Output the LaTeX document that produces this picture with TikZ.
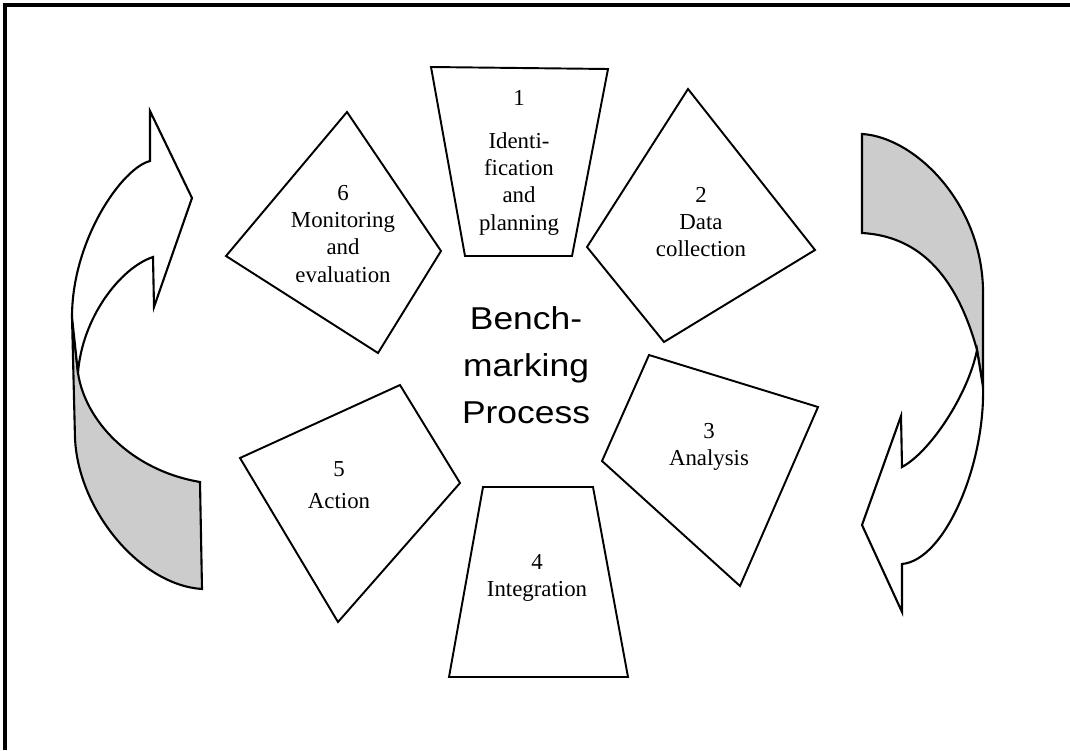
\documentclass[tikz,border=0pt]{standalone}
\usepackage{fontspec}
\setmainfont{Liberation Serif}
\newfontfamily\bigsans[FakeStretch=1.12]{Liberation Sans}

\begin{document}
\begin{tikzpicture}[x=0.02cm,y=-0.02cm,
    every node/.style={inner sep=0pt,align=center,anchor=north,font=\fontsize{13}{15.5}\selectfont},
    piece/.style={draw,line width=1.1pt,line join=miter},
    band/.style={draw,line width=1.2pt,fill=gray!40},
    sheet/.style={draw,line width=1.2pt,fill=white}]
  \useasboundingbox (0,0) rectangle (1070,750);
  \draw[line width=1.8pt] (5,750) -- (5,5) -- (1070,5);
  % left arrow
  \draw[band] (72,317) -- (75,438) .. controls (78,510) and (140,585) .. (202,589)
    -- (200,482) .. controls (130,470) and (85,420) .. (78,373) -- cycle;
  \draw[sheet] (150,161) -- (150,111) -- (192,198) -- (154,307) -- (153,257)
    .. controls (120,268) and (82,318) .. (78,373) -- (72,317)
    .. controls (72,240) and (122,168) .. (150,161) -- cycle;
  % right arrow
  \draw[band] (862,134) .. controls (915,137) and (985,205) .. (983,297) -- (983,387)
    -- (977,350) .. controls (955,270) and (915,236) .. (862,233) -- cycle;
  \draw[sheet] (977,350) -- (983,387) .. controls (985,465) and (945,560) .. (902,564)
    -- (902,612) -- (862,525) -- (901,416) -- (902,467)
    .. controls (930,452) and (968,395) .. (977,350) -- cycle;
  % the six stages
  \draw[piece] (431,67) -- (608,69) -- (572,256) -- (465,256) -- cycle;
  \draw[piece] (688,89) -- (815,250) -- (664,342) -- (587,247) -- cycle;
  \draw[piece] (649,355) -- (818,407) -- (740,586) -- (602,461) -- cycle;
  \draw[piece] (483,487) -- (593,487) -- (628,677) -- (449,677) -- cycle;
  \draw[piece] (400,385) -- (460,483) -- (338,622) -- (240,458) -- cycle;
  \draw[piece] (347,112) -- (441,251) -- (378,353) -- (226,256) -- cycle;
  \node (idplan) at (519,90) {1\\[9pt]Identi-\\fication\\and\\planning};
  \node (datacol) at (701,187) {2\\Data\\collection};
  \node (analysis) at (709,423) {3\\Analysis};
  \node (integr) at (537,554) {4\\Integration};
  \node (action) at (339,461) {5\\[3pt]Action};
  \node (monitor) at (343,185) {6\\Monitoring\\and\\evaluation};
  \node[font=\bigsans\fontsize{18}{26.7}\selectfont] (bench) at (526,306) {Bench-\\marking\\Process};
\end{tikzpicture}
\end{document}
